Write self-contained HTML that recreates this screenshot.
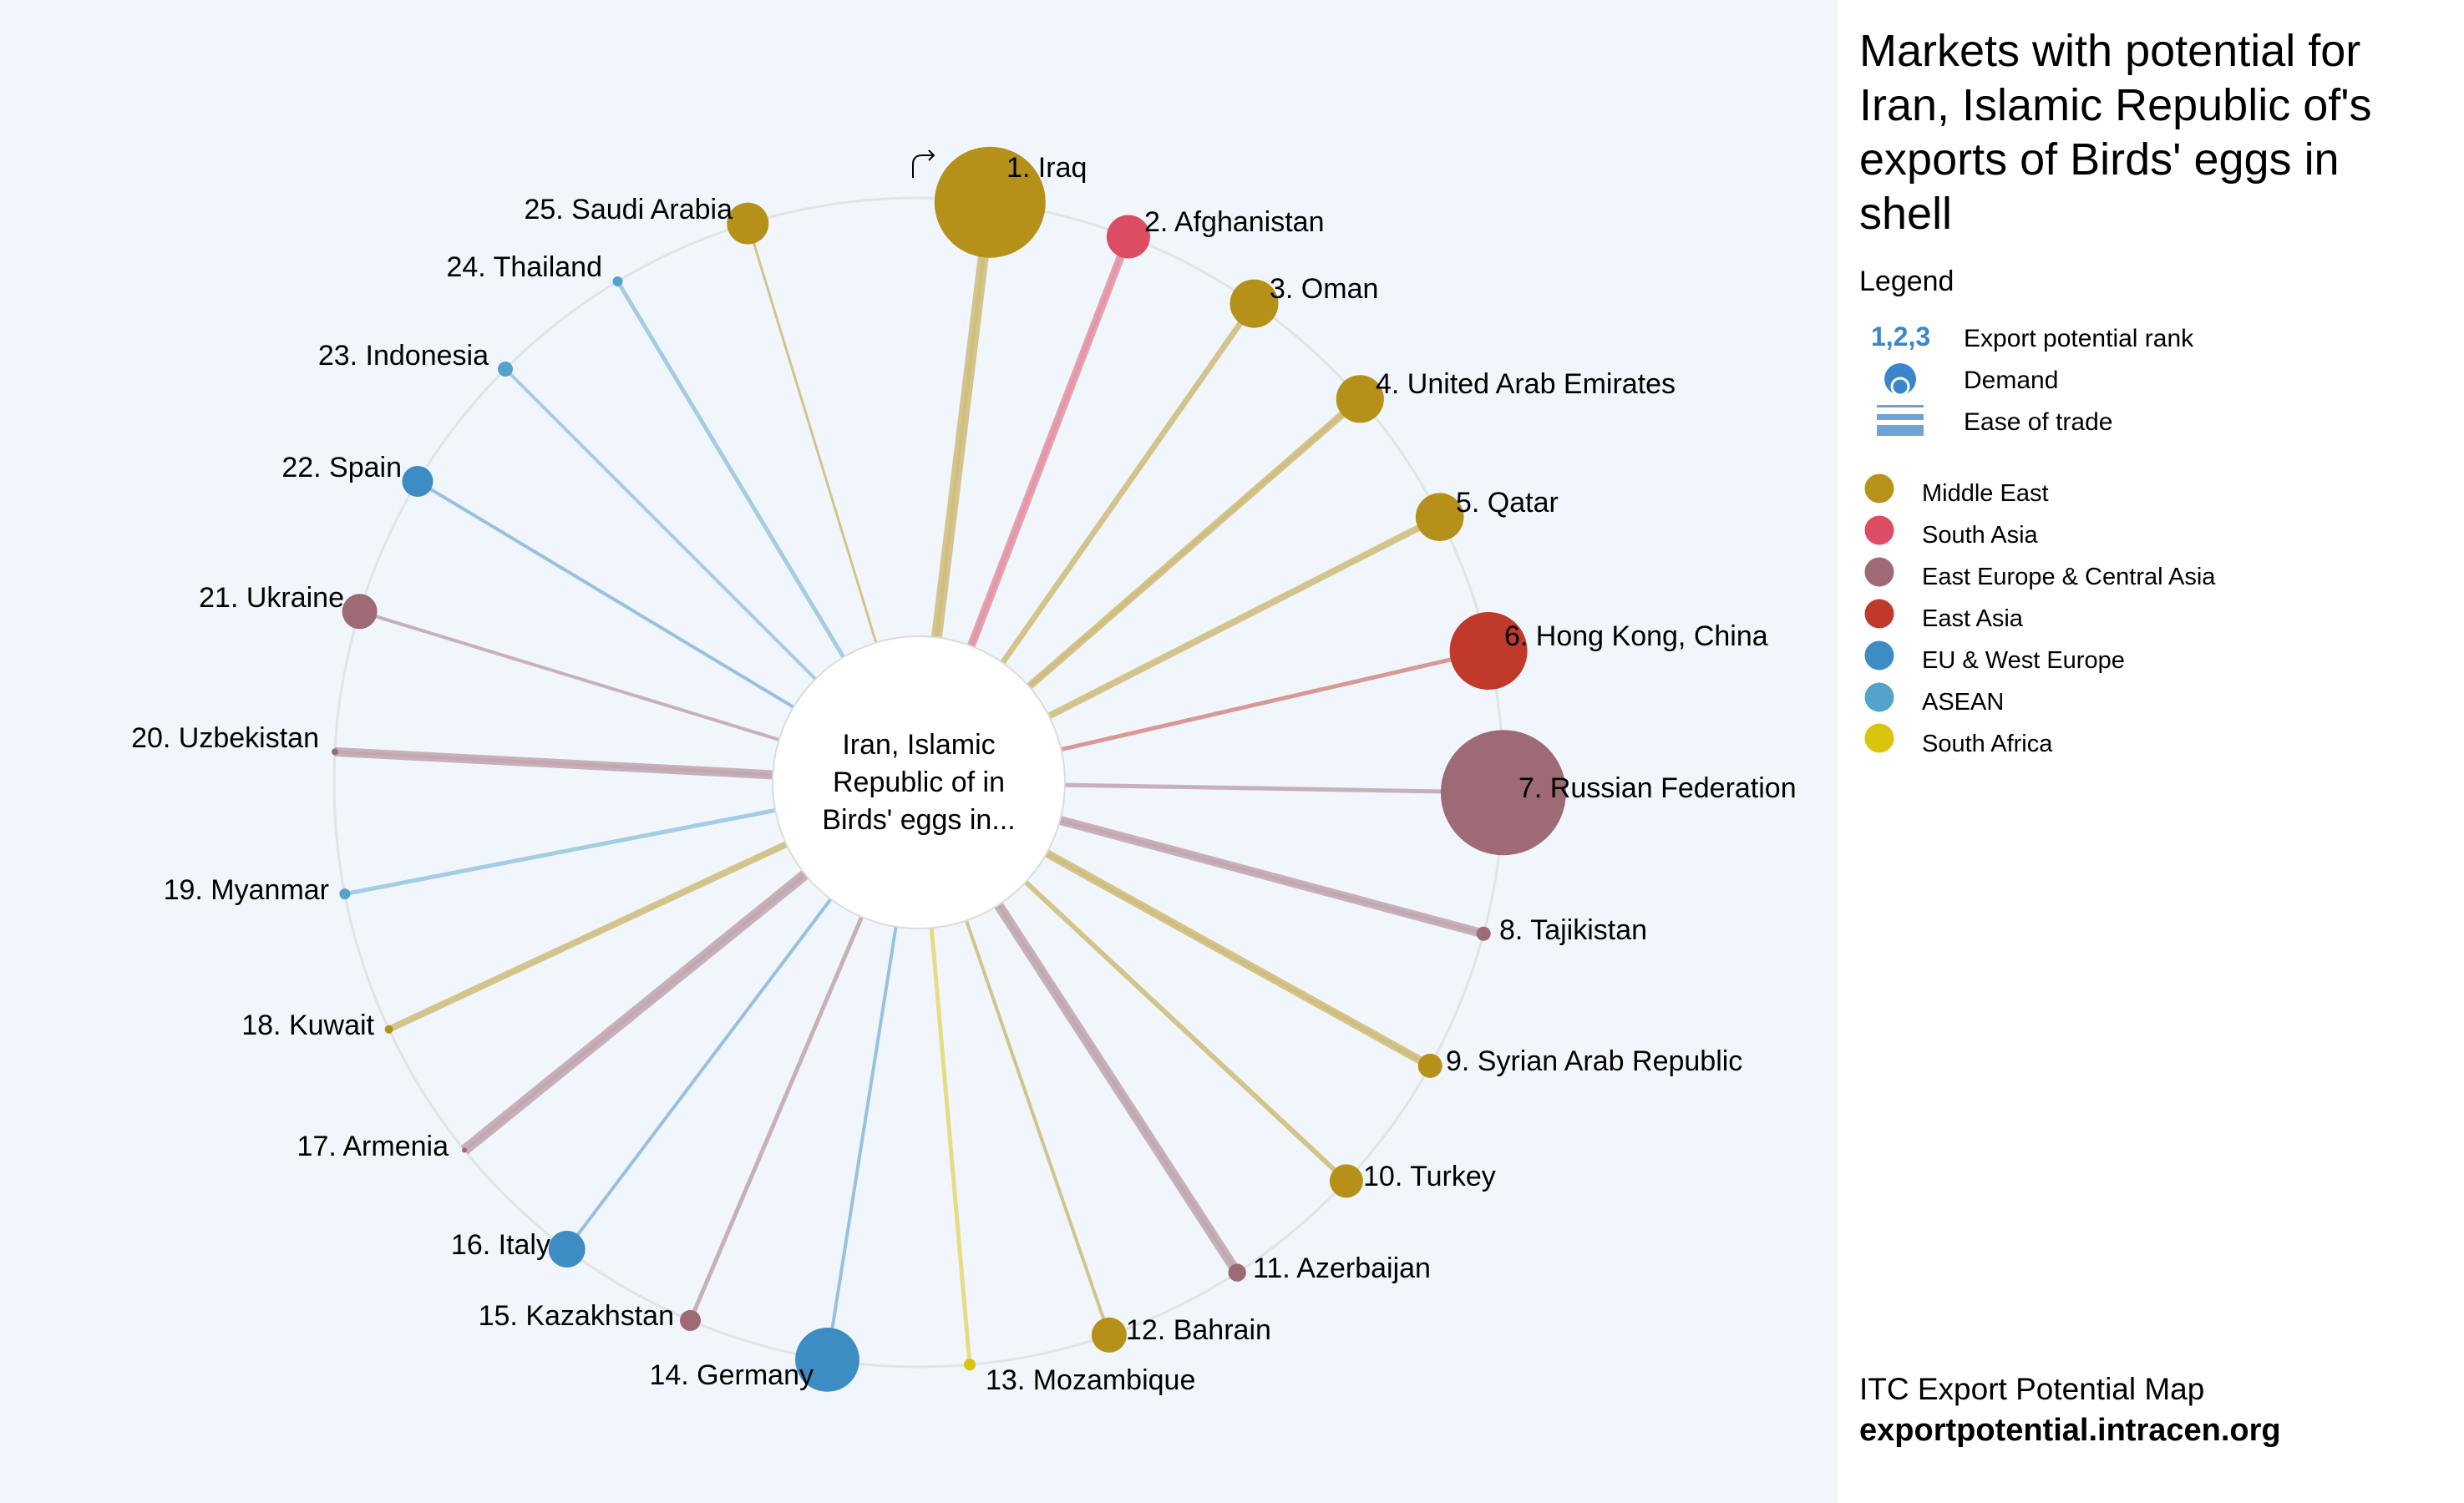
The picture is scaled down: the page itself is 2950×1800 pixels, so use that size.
<!DOCTYPE html>
<html><head><meta charset="utf-8"><style>
html,body{margin:0;padding:0;background:#fff;}
svg{display:block;}
text{font-family:"Liberation Sans",Arial,sans-serif;fill:#000;}
</style></head><body>
<svg width="2950" height="1800" viewBox="0 0 2950 1800" xmlns="http://www.w3.org/2000/svg">
<rect x="0" y="0" width="2200" height="1800" fill="#f1f6fc"/>
<rect x="2200" y="0" width="750" height="1800" fill="#ffffff"/>

<!-- outer ring -->
<circle cx="1100" cy="937" r="700" fill="none" stroke="#e1e3e6" stroke-width="3"/>

<!-- connectors -->
<g stroke-linecap="butt" stroke-opacity="0.5">
<line x1="1100" y1="937" x2="1185.3" y2="242.2" stroke="#b59119" stroke-width="13"/>
<line x1="1100" y1="937" x2="1350.9" y2="283.5" stroke="#dc4c63" stroke-width="10"/>
<line x1="1100" y1="937" x2="1501.5" y2="363.6" stroke="#b59119" stroke-width="7"/>
<line x1="1100" y1="937" x2="1628.3" y2="477.8" stroke="#b59119" stroke-width="9"/>
<line x1="1100" y1="937" x2="1723.7" y2="619.2" stroke="#b59119" stroke-width="8"/>
<line x1="1100" y1="937" x2="1782.1" y2="779.5" stroke="#c0392b" stroke-width="5"/>
<line x1="1100" y1="937" x2="1799.9" y2="949.2" stroke="#9e6a75" stroke-width="5"/>
<line x1="1100" y1="937" x2="1776.2" y2="1118.2" stroke="#9e6a75" stroke-width="11"/>
<line x1="1100" y1="937" x2="1712.2" y2="1276.4" stroke="#b59119" stroke-width="10"/>
<line x1="1100" y1="937" x2="1611.9" y2="1414.4" stroke="#b59119" stroke-width="6"/>
<line x1="1100" y1="937" x2="1481.2" y2="1524.1" stroke="#9e6a75" stroke-width="12"/>
<line x1="1100" y1="937" x2="1327.9" y2="1598.9" stroke="#b59119" stroke-width="4"/>
<line x1="1100" y1="937" x2="1161.0" y2="1634.3" stroke="#dac40c" stroke-width="5"/>
<line x1="1100" y1="937" x2="990.5" y2="1628.4" stroke="#3d8cc4" stroke-width="4"/>
<line x1="1100" y1="937" x2="826.5" y2="1581.4" stroke="#9e6a75" stroke-width="5"/>
<line x1="1100" y1="937" x2="678.7" y2="1496.0" stroke="#3d8cc4" stroke-width="4"/>
<line x1="1100" y1="937" x2="556.0" y2="1377.5" stroke="#9e6a75" stroke-width="13"/>
<line x1="1100" y1="937" x2="465.6" y2="1232.8" stroke="#b59119" stroke-width="8"/>
<line x1="1100" y1="937" x2="412.9" y2="1070.6" stroke="#55a3cb" stroke-width="5"/>
<line x1="1100" y1="937" x2="401.0" y2="900.4" stroke="#9e6a75" stroke-width="11"/>
<line x1="1100" y1="937" x2="430.6" y2="732.3" stroke="#9e6a75" stroke-width="4"/>
<line x1="1100" y1="937" x2="500.0" y2="576.5" stroke="#3d8cc4" stroke-width="4"/>
<line x1="1100" y1="937" x2="605.0" y2="442.0" stroke="#55a3cb" stroke-width="4"/>
<line x1="1100" y1="937" x2="739.5" y2="337.0" stroke="#55a3cb" stroke-width="5"/>
<line x1="1100" y1="937" x2="895.3" y2="267.6" stroke="#b59119" stroke-width="3"/>
</g>
<!-- subtle inner stripes on thick connectors -->
<g stroke-opacity="0.12" stroke-width="4">
<line x1="1100" y1="937" x2="1185.3" y2="242.2" stroke="#b59119"/>
<line x1="1100" y1="937" x2="1350.9" y2="283.5" stroke="#dc4c63"/>
<line x1="1100" y1="937" x2="1628.3" y2="477.8" stroke="#b59119"/>
<line x1="1100" y1="937" x2="1776.2" y2="1118.2" stroke="#9e6a75"/>
<line x1="1100" y1="937" x2="1712.2" y2="1276.4" stroke="#b59119"/>
<line x1="1100" y1="937" x2="1481.2" y2="1524.1" stroke="#9e6a75"/>
<line x1="1100" y1="937" x2="556.0" y2="1377.5" stroke="#9e6a75"/>
<line x1="1100" y1="937" x2="401.0" y2="900.4" stroke="#9e6a75"/>
</g>

<!-- center circle -->
<circle cx="1100" cy="937" r="175" fill="#ffffff" stroke="#dcdcdc" stroke-width="2"/>
<text x="1100" y="903" font-size="34" text-anchor="middle">Iran, Islamic</text>
<text x="1100" y="948" font-size="34" text-anchor="middle">Republic of in</text>
<text x="1100" y="993" font-size="34" text-anchor="middle">Birds' eggs in...</text>

<!-- nodes -->
<circle cx="1185.3" cy="242.2" r="66.5" fill="#b59119"/>
<circle cx="1350.9" cy="283.5" r="26" fill="#dc4c63"/>
<circle cx="1501.5" cy="363.6" r="29" fill="#b59119"/>
<circle cx="1628.3" cy="477.8" r="28.6" fill="#b59119"/>
<circle cx="1723.7" cy="619.2" r="28.8" fill="#b59119"/>
<circle cx="1782.1" cy="779.5" r="46.5" fill="#c0392b"/>
<circle cx="1799.9" cy="949.2" r="75" fill="#9e6a75"/>
<circle cx="1776.2" cy="1118.2" r="8.5" fill="#9e6a75"/>
<circle cx="1712.2" cy="1276.4" r="14.5" fill="#b59119"/>
<circle cx="1611.9" cy="1414.4" r="20" fill="#b59119"/>
<circle cx="1481.2" cy="1524.1" r="10.7" fill="#9e6a75"/>
<circle cx="1327.9" cy="1598.9" r="21" fill="#b59119"/>
<circle cx="1161.0" cy="1634.3" r="7" fill="#dac40c"/>
<circle cx="990.5" cy="1628.4" r="38.4" fill="#3d8cc4"/>
<circle cx="826.5" cy="1581.4" r="12.5" fill="#9e6a75"/>
<circle cx="678.7" cy="1496.0" r="22" fill="#3d8cc4"/>
<circle cx="556.0" cy="1377.5" r="3" fill="#9e6a75"/>
<circle cx="465.6" cy="1232.8" r="5" fill="#b59119"/>
<circle cx="412.9" cy="1070.6" r="6.5" fill="#55a3cb"/>
<circle cx="401.0" cy="900.4" r="4" fill="#9e6a75"/>
<circle cx="430.6" cy="732.3" r="21" fill="#9e6a75"/>
<circle cx="500.0" cy="576.5" r="18.5" fill="#3d8cc4"/>
<circle cx="605.0" cy="442.0" r="9" fill="#55a3cb"/>
<circle cx="739.5" cy="337.0" r="6" fill="#55a3cb"/>
<circle cx="895.3" cy="267.6" r="25" fill="#b59119"/>

<!-- rotate icon -->
<path d="M1093,213 L1093,197 Q1093,186 1104,186 L1118,186 M1112,180 L1118,186 L1112,192" fill="none" stroke="#000" stroke-width="2"/>

<!-- labels right -->
<g font-size="34">
<text x="1205" y="212">1. Iraq</text>
<text x="1370" y="277">2. Afghanistan</text>
<text x="1520" y="357">3. Oman</text>
<text x="1647" y="471">4. United Arab Emirates</text>
<text x="1743" y="613">5. Qatar</text>
<text x="1801" y="773">6. Hong Kong, China</text>
<text x="1818" y="955">7. Russian Federation</text>
<text x="1795" y="1125">8. Tajikistan</text>
<text x="1731" y="1282">9. Syrian Arab Republic</text>
<text x="1632" y="1420">10. Turkey</text>
<text x="1500" y="1530">11. Azerbaijan</text>
<text x="1348" y="1604">12. Bahrain</text>
<text x="1180" y="1664">13. Mozambique</text>
</g>
<!-- labels left -->
<g font-size="34" text-anchor="end">
<text x="974" y="1658">14. Germany</text>
<text x="807" y="1587">15. Kazakhstan</text>
<text x="659" y="1502">16. Italy</text>
<text x="537" y="1384">17. Armenia</text>
<text x="448" y="1239">18. Kuwait</text>
<text x="394" y="1077">19. Myanmar</text>
<text x="382" y="895">20. Uzbekistan</text>
<text x="412" y="727">21. Ukraine</text>
<text x="481" y="571">22. Spain</text>
<text x="585" y="437">23. Indonesia</text>
<text x="721" y="331">24. Thailand</text>
<text x="877" y="262">25. Saudi Arabia</text>
</g>

<!-- title -->
<g font-size="54">
<text x="2226" y="79">Markets with potential for</text>
<text x="2226" y="144">Iran, Islamic Republic of's</text>
<text x="2226" y="209">exports of Birds' eggs in</text>
<text x="2226" y="274">shell</text>
</g>
<text x="2226" y="348" font-size="34">Legend</text>

<!-- legend symbols -->
<text x="2240" y="414" font-size="32" font-weight="bold" style="fill:#3a86cc">1,2,3</text>
<text x="2351" y="415" font-size="30">Export potential rank</text>
<circle cx="2275" cy="454" r="19" fill="#3a86cc"/>
<circle cx="2275" cy="463" r="10" fill="#3a86cc" stroke="#ffffff" stroke-width="3"/>
<text x="2351" y="465" font-size="30">Demand</text>
<rect x="2247" y="485" width="56" height="3" fill="#6fa3d4"/>
<rect x="2247" y="496" width="56" height="7" fill="#6fa3d4"/>
<rect x="2247" y="509" width="56" height="13" fill="#6fa3d4"/>
<text x="2351" y="515" font-size="30">Ease of trade</text>

<!-- region legend -->
<circle cx="2250" cy="585" r="17.5" fill="#b8931b"/>
<circle cx="2250" cy="635" r="17.5" fill="#dc4c63"/>
<circle cx="2250" cy="685" r="17.5" fill="#9e6a75"/>
<circle cx="2250" cy="735" r="17.5" fill="#c0392b"/>
<circle cx="2250" cy="785" r="17.5" fill="#3d8cc4"/>
<circle cx="2250" cy="835" r="17.5" fill="#55a3cb"/>
<circle cx="2250" cy="884" r="17.5" fill="#dac40c"/>
<g font-size="29">
<text x="2301" y="600">Middle East</text>
<text x="2301" y="650">South Asia</text>
<text x="2301" y="700">East Europe &amp; Central Asia</text>
<text x="2301" y="750">East Asia</text>
<text x="2301" y="800">EU &amp; West Europe</text>
<text x="2301" y="850">ASEAN</text>
<text x="2301" y="900">South Africa</text>
</g>

<!-- footer -->
<text x="2226" y="1676" font-size="37">ITC Export Potential Map</text>
<text x="2226" y="1725" font-size="38" font-weight="bold">exportpotential.intracen.org</text>
</svg>
</body></html>
